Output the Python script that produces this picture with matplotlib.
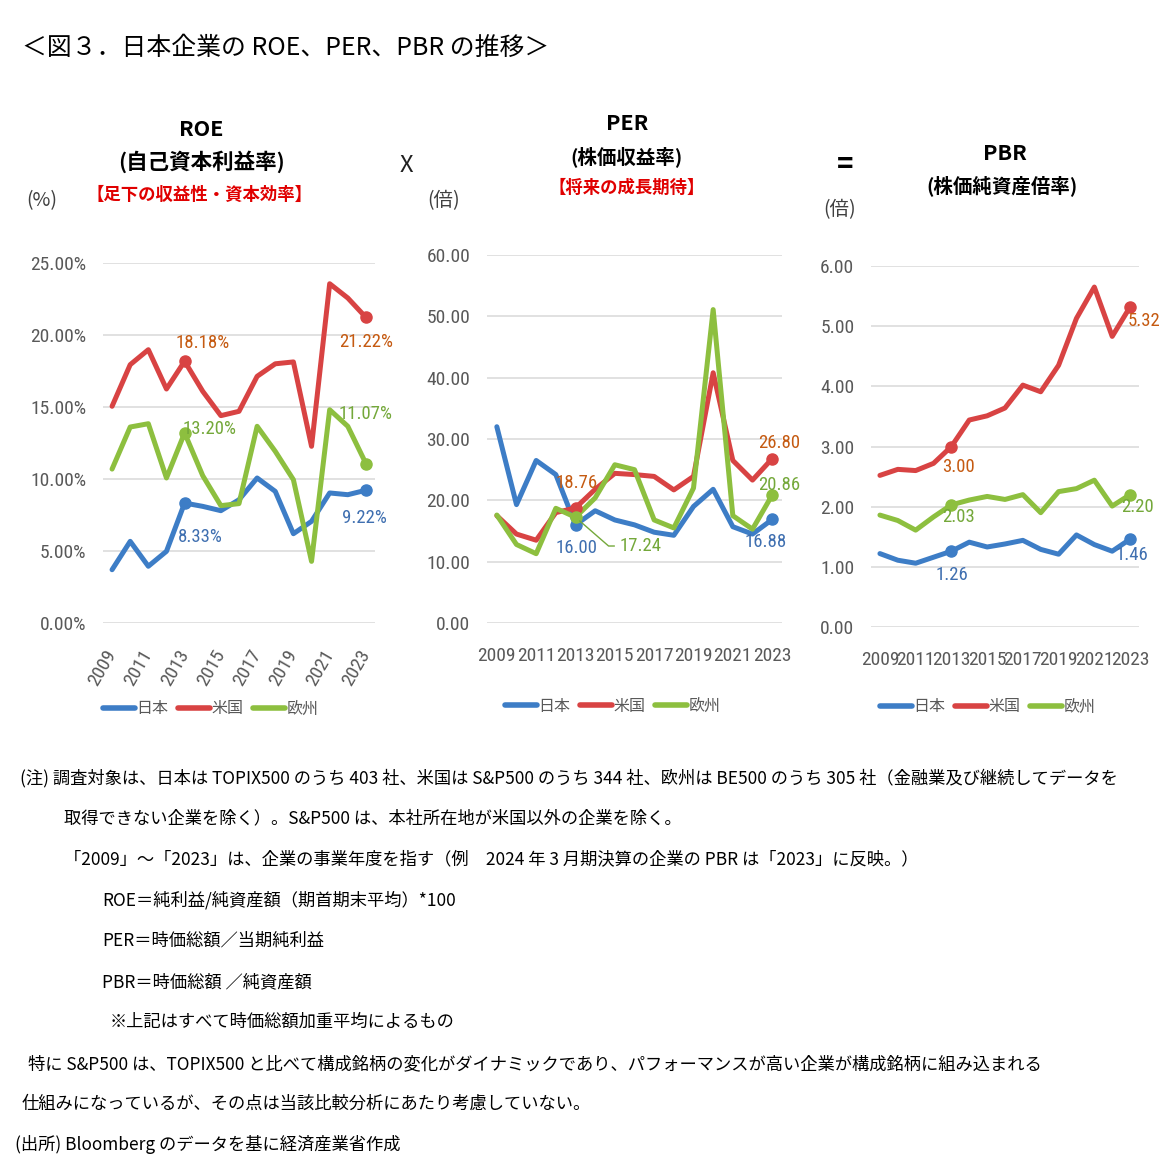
import numpy as np
import matplotlib
matplotlib.use("Agg")
import matplotlib.pyplot as plt
from matplotlib.lines import Line2D
from matplotlib import font_manager

W, H = 1168, 1168

years = list(range(2009, 2024))
series_names = ['日本', '米国', '欧州']

# ROE (%)
roe_jp = [3.70, 5.67, 3.94, 4.98, 8.33, 8.10, 7.80, 8.56, 10.07, 9.14, 6.20, 7.06, 9.03, 8.91, 9.22]
roe_us = [15.05, 17.94, 18.98, 16.25, 18.18, 16.09, 14.40, 14.70, 17.13, 18.00, 18.13, 12.27, 23.56, 22.57, 21.22]
roe_eu = [10.69, 13.61, 13.84, 10.07, 13.20, 10.23, 8.15, 8.29, 13.66, 11.92, 9.95, 4.28, 14.81, 13.66, 11.07]

# PER (倍)
per_jp = [32.0, 19.3, 26.5, 24.2, 16.00, 18.3, 16.8, 16.0, 14.8, 14.3, 19.0, 21.8, 15.7, 14.5, 16.88]
per_us = [17.5, 14.5, 13.5, 18.0, 18.76, 21.8, 24.4, 24.2, 23.9, 21.7, 23.9, 40.8, 26.5, 23.3, 26.80]
per_eu = [17.6, 12.8, 11.3, 18.7, 17.24, 20.4, 25.8, 25.0, 16.8, 15.5, 22.0, 51.1, 17.5, 15.3, 20.86]

# PBR (倍)
pbr_jp = [1.22, 1.11, 1.06, 1.16, 1.26, 1.41, 1.33, 1.38, 1.44, 1.29, 1.21, 1.53, 1.37, 1.26, 1.46]
pbr_us = [2.52, 2.62, 2.60, 2.72, 3.00, 3.44, 3.51, 3.64, 4.02, 3.91, 4.35, 5.13, 5.65, 4.83, 5.32]
pbr_eu = [1.86, 1.77, 1.61, 1.83, 2.03, 2.11, 2.17, 2.12, 2.20, 1.90, 2.25, 2.30, 2.44, 2.01, 2.20]

line_colors = ['#3D7DC6', '#D84343', '#8DBF3F']
label_colors = ['#3F6FB0', '#C55A11', '#74A83A']
gray = '#595959'
grid_c = '#D9D9D9'
red_txt = '#E00000'
cjk = ['Noto Sans CJK JP', 'DejaVu Sans']

# look for a narrow latin face (the chart's numbers use a condensed font)
narrow_file = None
for want in ['Liberation Sans Narrow', 'Roboto Condensed', 'Open Sans Condensed', 'DejaVu Sans Condensed']:
    for f in font_manager.fontManager.ttflist:
        if f.name == want and f.style == 'normal' and f.weight in (400, 'normal', 'regular'):
            narrow_file = f.fname
            break
    if narrow_file:
        break
if narrow_file is None:
    for f in font_manager.fontManager.ttflist:
        if f.stretch in ('condensed', 'semi-condensed') and f.style == 'normal' and f.weight in (400, 'normal'):
            narrow_file = f.fname
            break


def num_font(size):
    if narrow_file:
        return font_manager.FontProperties(fname=narrow_file, size=size)
    return font_manager.FontProperties(family=cjk, size=size * 0.85)


def box(x0, y0, x1, y1):
    return [x0 / W, 1 - y1 / H, (x1 - x0) / W, (y1 - y0) / H]


def ftext(x, y, s, **kw):
    return fig.text(x / W, 1 - y / H, s, **kw)


fig = plt.figure(figsize=(W / 100, H / 100), dpi=100)
fig.patch.set_facecolor('white')


def draw_panel(rect, data, ymax, ystep, fmt, labels):
    ax = fig.add_axes(rect)
    x = np.arange(len(years))
    for vals, c in zip(data, line_colors):
        ax.plot(x, vals, color=c, lw=3.6, solid_joinstyle='round', solid_capstyle='round', zorder=3)
        ax.plot([4, 14], [vals[4], vals[14]], 'o', color=c, ms=8, zorder=4)
    ax.set_xlim(-0.5, len(years) - 0.5)
    ax.set_ylim(0, ymax)
    ticks = np.arange(0, ymax + ystep / 2, ystep)
    ax.set_yticks(ticks)
    ax.set_yticklabels([fmt(v) for v in ticks], fontproperties=num_font(14), color=gray)
    ax.grid(axis='y', color=grid_c, lw=1.1)
    ax.set_axisbelow(True)
    for s in ax.spines.values():
        s.set_visible(False)
    ax.tick_params(length=0)
    ax.tick_params(axis='y', pad=12)
    ax.set_xticks(x[::2])
    for (si, idx, dx, dy) in labels:
        v = data[si][idx]
        ax.annotate(fmt(v), (idx, v), xytext=(dx, dy), textcoords='offset points',
                    ha='center', va='center', color=label_colors[si],
                    fontproperties=num_font(13.5), zorder=5)
    return ax


# ROE
ax1 = draw_panel(box(103, 263, 375, 623), [roe_jp, roe_us, roe_eu], 25, 5,
                 lambda v: f'{v:.2f}%',
                 [(1, 4, 13, 13), (1, 14, 0, -18), (2, 4, 18, 3), (2, 14, 0, 36),
                  (0, 4, 11, -24.5), (0, 14, -1.4, -20)])
ax1.set_xticklabels([str(y) for y in years[::2]], rotation=60, ha='right', va='center',
                    rotation_mode='anchor', fontproperties=num_font(14), color=gray)
ax1.tick_params(axis='x', pad=20)

# PER
ax2 = draw_panel(box(487, 255, 782, 623), [per_jp, per_us, per_eu], 60, 10,
                 lambda v: f'{v:.2f}',
                 [(1, 4, 1, 18), (0, 4, 1, -16.6), (1, 14, 5, 11), (2, 14, 5, 7),
                  (0, 14, -5, -16)])
ax2.annotate(f'{per_eu[4]:.2f}', (4, per_eu[4]), xytext=(32, -20.7), textcoords='offset points',
             ha='left', va='center', color=label_colors[2], fontproperties=num_font(13.5), zorder=5,
             arrowprops=dict(arrowstyle='-', color=label_colors[2], lw=1, shrinkA=2, shrinkB=4,
                             connectionstyle='angle,angleA=0,angleB=-41,rad=0'))
ax2.set_xticklabels([str(y) for y in years[::2]], fontproperties=num_font(14), color=gray)
ax2.tick_params(axis='x', pad=17)

# PBR
ax3 = draw_panel(box(871, 266, 1139, 627), [pbr_jp, pbr_us, pbr_eu], 6, 1,
                 lambda v: f'{v:.2f}',
                 [(1, 4, 5, -15), (2, 4, 5, -8.6), (0, 4, 0.7, -17), (1, 14, 10, -10),
                  (2, 14, 5, -9), (0, 14, 1.4, -11.5)])
ax3.set_xticklabels([str(y) for y in years[::2]], fontproperties=num_font(14), color=gray)
ax3.tick_params(axis='x', pad=17)

# legends
handles = [Line2D([0], [0], color=c, lw=4, solid_capstyle='round') for c in line_colors]
for cx, cy in [(211, 709), (613, 706), (988, 707)]:
    fig.legend(handles, series_names, loc='center', bbox_to_anchor=(cx / W, 1 - cy / H),
               ncol=3, frameon=False, handlelength=2.0, handletextpad=0.1, columnspacing=0.6,
               prop={'family': cjk, 'size': 11.5}, labelcolor=gray)

# headers
ftext(22, 48, '＜図３．日本企業の ROE、PER、PBR の推移＞', family=cjk, fontsize=17.9,
      ha='left', va='center', color='black')
ftext(201, 130, 'ROE', family=cjk, fontsize=15.5, fontweight='bold', ha='center', va='center')
ftext(201, 162, '(自己資本利益率)', family=cjk, fontsize=15.5, fontweight='bold', ha='center', va='center')
ftext(200, 195, '【足下の収益性・資本効率】', family=cjk, fontsize=12.5, fontweight='bold',
      ha='center', va='center', color=red_txt)
ftext(42, 201, '(%)', family=cjk, fontsize=14, ha='center', va='center', color='#404040')
ftext(406, 165, 'X', family=cjk, fontsize=17, ha='center', va='center', color='#202020')
ftext(444, 201, '(倍)', family=cjk, fontsize=14, ha='center', va='center', color='#404040')
ftext(627, 124, 'PER', family=cjk, fontsize=15.5, fontweight='bold', ha='center', va='center')
ftext(627, 157, '(株価収益率)', family=cjk, fontsize=14, fontweight='bold', ha='center', va='center')
ftext(627, 188, '【将来の成長期待】', family=cjk, fontsize=12.5, fontweight='bold',
      ha='center', va='center', color=red_txt)
ftext(845, 165, '=', family=cjk, fontsize=20, fontweight='bold', ha='center', va='center')
ftext(840, 210, '(倍)', family=cjk, fontsize=14, ha='center', va='center', color='#404040')
ftext(1005, 153, 'PBR', family=cjk, fontsize=15.5, fontweight='bold', ha='center', va='center')
ftext(1002, 186, '(株価純資産倍率)', family=cjk, fontsize=14, fontweight='bold', ha='center', va='center')

# notes
notes = [
    (20, 778, '(注) 調査対象は、日本は TOPIX500 のうち 403 社、米国は S&P500 のうち 344 社、欧州は BE500 のうち 305 社（金融業及び継続してデータを'),
    (64, 818, '取得できない企業を除く）。S&P500 は、本社所在地が米国以外の企業を除く。'),
    (64, 859, '「2009」～「2023」は、企業の事業年度を指す（例　2024 年 3 月期決算の企業の PBR は「2023」に反映。）'),
    (102, 900, 'ROE＝純利益/純資産額（期首期末平均）*100'),
    (102, 941, 'PER＝時価総額／当期純利益'),
    (102, 982, 'PBR＝時価総額 ／純資産額'),
    (110, 1022, '※上記はすべて時価総額加重平均によるもの'),
    (28, 1064, '特に S&P500 は、TOPIX500 と比べて構成銘柄の変化がダイナミックであり、パフォーマンスが高い企業が構成銘柄に組み込まれる'),
    (22, 1104, '仕組みになっているが、その点は当該比較分析にあたり考慮していない。'),
    (15, 1145, '(出所) Bloomberg のデータを基に経済産業省作成'),
]
for x, y, s in notes:
    ftext(x, y, s, family=cjk, fontsize=12.45, ha='left', va='center', color='black')

fig.savefig('out.png', dpi=100)
